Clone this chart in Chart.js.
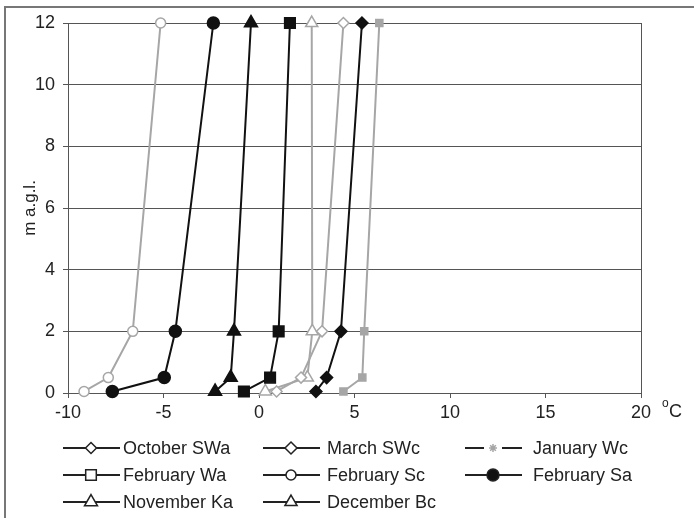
<!DOCTYPE html>
<html>
<head>
<meta charset="utf-8">
<script src="https://cdn.jsdelivr.net/npm/chart.js@4/dist/chart.umd.min.js"></script>
<style>
  html, body { margin: 0; padding: 0; background: #fff; }
</style>
</head>
<body>
<canvas id="chart" width="694" height="518"></canvas>
<script>
// Heights above ground (m a.g.l.) where each profile was measured
const heights = [0.05, 0.5, 2, 12];

// Temperature (°C) at each height, bottom to top
const octoberSWa  = [0.92, 2.2, 3.3, 4.42];
const marchSWc    = [2.98, 3.54, 4.29, 5.39];
const januaryWc   = [4.42, 5.41, 5.51, 6.3];
const februaryWa  = [-0.79, 0.58, 1.03, 1.62];
const februarySc  = [-9.16, -7.89, -6.61, -5.15];
const februarySa  = [-7.68, -4.96, -4.38, -2.39];
const novemberKa  = [-2.3, -1.48, -1.31, -0.42];
const decemberBc  = [0.33, 2.53, 2.79, 2.76];

const seriesNames = ['October SWa', 'March SWc', 'January Wc', 'February Wa', 'February Sc',
  'February Sa', 'November Ka', 'December Bc'];

const xRange = [-10, 20];
const yRange = [0, 12];

const FONT = "'Liberation Sans', Arial, sans-serif";
const gray = '#a6a6a6';
const black = '#111';

function series(label, temps, color, style, radius, fill, legend) {
  return {
    label: label,
    data: temps.map((t, i) => ({ x: t, y: heights[i] })),
    showLine: true,
    clip: false,
    borderColor: color,
    borderWidth: 2,
    pointStyle: style,
    pointRadius: radius,
    pointBackgroundColor: fill,
    pointBorderColor: color,
    pointBorderWidth: 1.5,
    legend: legend
  };
}

const datasets = [
  series(seriesNames[0], octoberSWa, gray, 'rectRot', 5.5, '#fff', { fill: '#fff' }),
  series(seriesNames[1], marchSWc, black, 'rectRot', 6, black, { fill: '#fff' }),
  series(seriesNames[2], januaryWc, gray, 'rect', 5, gray, { fill: gray, marker: 'star', gap: true }),
  series(seriesNames[3], februaryWa, black, 'rect', 7.5, black, { fill: '#fff' }),
  series(seriesNames[4], februarySc, gray, 'circle', 5, '#fff', { fill: '#fff' }),
  series(seriesNames[5], februarySa, black, 'circle', 6, black, { fill: black }),
  series(seriesNames[6], novemberKa, black, 'triangle', 7.5, black, { fill: '#fff' }),
  series(seriesNames[7], decemberBc, gray, 'triangle', 7, '#fff', { fill: '#fff' })
];

// Legend placement (3 columns, row-major)
const legendLineX = [63, 263, 465];
const legendTextX = [123, 327, 533];
const legendRowY = [448, 475, 502];

const decorPlugin = {
  id: 'decor',
  beforeDraw(chart) {
    const ctx = chart.ctx;
    ctx.save();
    // outer frame (top and left edges only)
    ctx.strokeStyle = '#777';
    ctx.lineWidth = 2;
    ctx.beginPath();
    ctx.moveTo(5, 518);
    ctx.lineTo(5, 7);
    ctx.lineTo(694, 7);
    ctx.stroke();
    ctx.restore();
  },
  beforeDatasetsDraw(chart) {
    const ctx = chart.ctx;
    const a = chart.chartArea;
    ctx.save();
    ctx.strokeStyle = '#555';
    ctx.lineWidth = 1;
    ctx.beginPath();
    ctx.moveTo(Math.round(a.right) + 0.5, a.top);
    ctx.lineTo(Math.round(a.right) + 0.5, a.bottom);
    ctx.stroke();
    ctx.restore();
  },
  afterDraw(chart) {
    const ctx = chart.ctx;
    const a = chart.chartArea;
    ctx.save();
    ctx.fillStyle = '#222';
    // y axis title
    ctx.save();
    ctx.translate(30, (a.top + a.bottom) / 2);
    ctx.rotate(-Math.PI / 2);
    ctx.font = '17px ' + FONT;
    ctx.textAlign = 'center';
    ctx.textBaseline = 'middle';
    ctx.fillText('m a.g.l.', 0, 0);
    ctx.restore();
    // x unit
    ctx.textBaseline = 'middle';
    ctx.textAlign = 'left';
    ctx.font = '12px ' + FONT;
    ctx.fillText('o', 662, 404);
    ctx.font = '18px ' + FONT;
    ctx.fillText('C', 669, 412);

    // legend
    chart.data.datasets.forEach((ds, i) => {
      const col = i % 3, row = Math.floor(i / 3);
      const x0 = legendLineX[col], y = legendRowY[row];
      const lg = ds.legend;
      ctx.strokeStyle = '#222';
      ctx.lineWidth = 2;
      ctx.beginPath();
      if (lg.gap) {
        ctx.moveTo(x0, y); ctx.lineTo(x0 + 19, y);
        ctx.moveTo(x0 + 37, y); ctx.lineTo(x0 + 57, y);
      } else {
        ctx.moveTo(x0, y); ctx.lineTo(x0 + 57, y);
      }
      ctx.stroke();
      ctx.fillStyle = lg.fill;
      ctx.strokeStyle = lg.marker === 'star' ? gray : '#222';
      ctx.lineWidth = 1.5;
      Chart.helpers.drawPoint(ctx, {
        pointStyle: lg.marker || ds.pointStyle,
        radius: lg.marker ? 4 : ds.pointRadius,
        borderWidth: 1.5,
        rotation: 0
      }, x0 + 28, y);
      ctx.fillStyle = '#222';
      ctx.font = '18px ' + FONT;
      ctx.textAlign = 'left';
      ctx.textBaseline = 'middle';
      ctx.fillText(ds.label, legendTextX[col], y + 1);
    });
    ctx.restore();
  }
};

new Chart(document.getElementById('chart'), {
  type: 'scatter',
  data: { datasets: datasets },
  options: {
    responsive: false,
    animation: false,
    layout: { padding: { top: 23, right: 53, left: 0, bottom: 0 } },
    plugins: {
      legend: { display: false },
      tooltip: { enabled: false }
    },
    scales: {
      x: {
        type: 'linear',
        min: xRange[0],
        max: xRange[1],
        afterFit(scale) { scale.height = 125; },
        ticks: { stepSize: 5, color: '#222', font: { family: FONT, size: 18 }, padding: 4, maxRotation: 0 },
        grid: { drawOnChartArea: false, drawTicks: true, tickLength: 5, color: '#555' },
        border: { color: '#555', width: 1 }
      },
      y: {
        type: 'linear',
        min: yRange[0],
        max: yRange[1],
        afterFit(scale) { scale.width = 68; },
        ticks: { stepSize: 2, color: '#222', font: { family: FONT, size: 18 }, padding: 8 },
        grid: { color: '#555', tickLength: 5, lineWidth: 1 },
        border: { color: '#555', width: 1 }
      }
    }
  },
  plugins: [decorPlugin]
});
</script>
</body>
</html>
